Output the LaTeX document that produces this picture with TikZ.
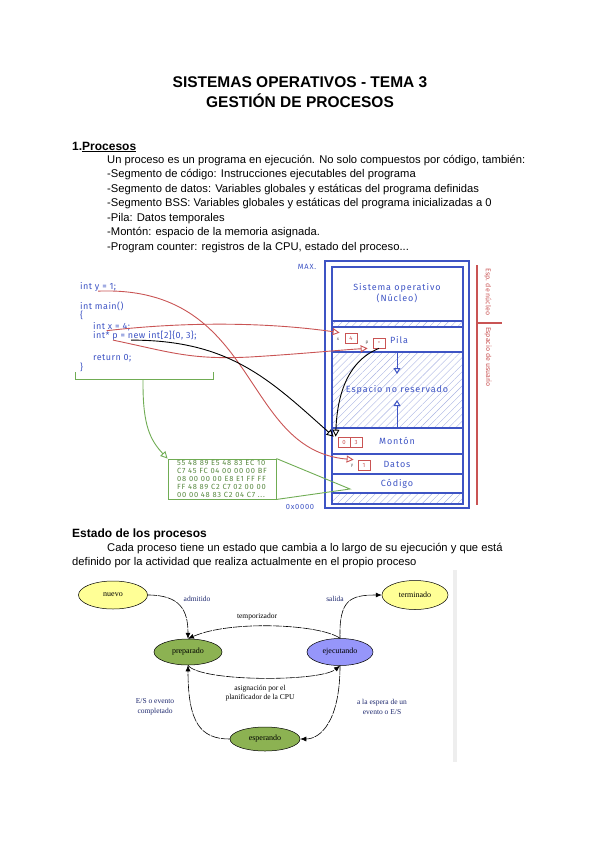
\documentclass[tikz,border=0pt]{standalone}
\usepackage{fontspec}
\setmainfont{Liberation Sans}
\newfontfamily\statefont{Liberation Serif}
\newfontfamily\sketchfont[LetterSpace=10]{Fira Sans}
\newfontfamily\codefont[LetterSpace=5]{Fira Sans}
\newfontfamily\sidefont{Fira Sans}
\usetikzlibrary{arrows.meta,patterns.meta,shapes.geometric}

\definecolor{skblue}{RGB}{62,84,196}
\definecolor{skred}{RGB}{201,84,84}
\definecolor{skgreen}{RGB}{112,172,84}
\definecolor{hatchblue}{RGB}{168,178,226}
\definecolor{stYellow}{RGB}{255,255,150}
\definecolor{stGreen}{RGB}{140,178,82}
\definecolor{stViolet}{RGB}{150,150,250}
\definecolor{labelnavy}{RGB}{30,40,110}
\definecolor{barGray}{RGB}{238,238,238}

\begin{document}
\begin{tikzpicture}[x=1pt,y=-1pt,
    title/.style={anchor=base, inner sep=0pt, font=\bfseries\fontsize{15.5}{17}\selectfont},
    body/.style={anchor=base west, inner sep=0pt, font=\fontsize{11.2}{13}\selectfont},
    head/.style={anchor=base west, inner sep=0pt, font=\bfseries\fontsize{12}{14}\selectfont},
    code/.style={anchor=base west, inner sep=0pt, text=skblue, font=\codefont\fontsize{9}{10}\selectfont},
    memtext/.style={inner sep=0pt, text=skblue, font=\sketchfont\fontsize{9}{11}\selectfont, align=center},
    sidetext/.style={inner sep=0pt, text=skred, rotate=-90, font=\sidefont\fontsize{7}{8}\selectfont},
    cell/.style={draw=skred, line width=0.7pt, minimum width=12pt, minimum height=10pt, inner sep=0pt, text=skred, font=\sidefont\fontsize{6}{6}\selectfont},
    varname/.style={inner sep=0pt, text=black!70, font=\sidefont\fontsize{4.5}{5}\selectfont},
    hatch/.style={pattern={Lines[angle=45,distance=5pt,line width=0.4pt]}, pattern color=hatchblue},
    skarrow/.style={-{Triangle[open,length=7pt,width=7pt]}, line width=0.9pt},
    state/.style={ellipse, draw=black, line width=0.5pt, inner sep=0pt, font=\statefont\fontsize{8}{9}\selectfont},
    trans/.style={draw=black, line width=0.6pt, dash pattern=on 9pt off 1pt, -{Latex[length=6pt,width=5pt]}},
    lbl/.style={inner sep=0pt, align=center, text=labelnavy, font=\statefont\fontsize{7.5}{9.5}\selectfont}]
\useasboundingbox (0,0) rectangle (600,848);

% cabecera
\node[title] (tit1) at (300,88) {SISTEMAS OPERATIVOS - TEMA 3};
\node[title] (tit2) at (300,108) {GESTIÓN DE PROCESOS};

\node[head] (sec1) at (72,150) {1.\underline{Procesos}};
\node[body] (l1) at (107,163) {Un proceso es un programa en ejecución. No solo compuestos por código, también:};
\node[body] (l2) at (107,177) {-Segmento de código: Instrucciones ejecutables del programa};
\node[body] (l3) at (107,192) {-Segmento de datos: Variables globales y estáticas del programa definidas};
\node[body] (l4) at (107,206) {-Segmento BSS: Variables globales y estáticas del programa inicializadas a 0};
\node[body] (l5) at (107,221) {-Pila: Datos temporales};
\node[body] (l6) at (107,235) {-Montón: espacio de la memoria asignada.};
\node[body] (l7) at (107,250) {-Program counter: registros de la CPU, estado del proceso...};

% codigo fuente
\node[code] (codey) at (80,289) {int y = 1;};
\node[code] (codemain) at (80,309) {int main()};
\node[code] (codeopen) at (80,318) {\{};
\node[code] (codex) at (93,329) {int x = 4;};
\node[code] (codep) at (93,338) {int* p = new int[2]\{0, 3\};};
\node[code] (coderet) at (93,360) {return 0;};
\node[code] (codeclose) at (80,370) {\}};

% mapa de memoria
\fill[hatch] (332,321) rectangle (463,327);
\fill[hatch] (332,352) rectangle (463,428);
\fill[hatch] (332,493) rectangle (463,504);
\draw[skblue, line width=1.1pt] (325,261) rectangle (469,508);
\draw[skblue, line width=1.1pt] (332,267) rectangle (463,504);
\draw[skblue, line width=1.1pt] (332,321) -- (463,321);
\draw[skblue, line width=1.1pt] (332,327) -- (463,327);
\draw[skblue, line width=1.1pt] (332,352) -- (463,352);
\draw[skblue, line width=1.1pt] (332,428) -- (463,428);
\draw[skblue, line width=1.1pt] (332,454) -- (463,454);
\draw[skblue, line width=1.1pt] (332,474) -- (463,474);
\draw[skblue, line width=1.1pt] (332,493) -- (463,493);
\draw[skblue, line width=1pt, -{Triangle[open,length=6pt,width=7pt]}] (397,352) -- (397,374);
\draw[skblue, line width=1pt, -{Triangle[open,length=6pt,width=7pt]}] (397,428) -- (397,400);

\node[memtext, font=\sketchfont\fontsize{7.5}{9}\selectfont] (maxlbl) at (307,267) {MAX.};
\node[memtext, font=\sketchfont\fontsize{7.5}{9}\selectfont] (minlbl) at (300,507) {0x0000};
\node[memtext] (kernel) at (397,293) {Sistema operativo\\(Núcleo)};
\node[memtext] (pila) at (399,340) {Pila};
\node[memtext] (libre) at (397,390) {Espacio no reservado};
\node[memtext] (monton) at (397,441) {Montón};
\node[memtext] (datos) at (397,464) {Datos};
\node[memtext] (codigo) at (397,484) {Código};

% celdas de variables
\node[cell] (xcell) at (351,338) {4};
\node[cell] (pcell) at (379,343) {•};
\node[cell] (h0) at (344,442) {0};
\node[cell] (h3) at (356,442) {3};
\node[cell] (ycell) at (364,465) {1};
\node[varname] (xname) at (338,339) {x};
\node[varname] (pname) at (367,343) {p};
\node[varname] (yname) at (352,466) {y};

% espacio de nucleo / usuario
\draw[skred, line width=1.2pt] (477,265) -- (477,505);
\draw[skred, line width=1.2pt] (477,323) -- (502,323);
\node[sidetext] (espnucleo) at (488,292) {Esp. de núcleo};
\node[sidetext] (espusuario) at (488,357) {Espacio de usuario};

% flechas variables
\draw[skarrow, skred] (codey.south) .. controls (260,285) and (240,450) .. ([xshift=-4pt]ycell.north west);
\draw[skarrow, skred] ([xshift=-5pt]codex.south) .. controls (200,320) and (280,324) .. ([xshift=-5pt]xcell.north west);
\draw[skarrow, skred] ([xshift=20pt]codep.south west) .. controls (170,352) and (190,360) .. (250,357) .. controls (300,354) and (340,350) .. ([xshift=-5pt]pcell.south west);
\draw[skarrow, black] ([xshift=38pt]codep.south west) .. controls (230,340) and (270,380) .. ([xshift=-4pt]h0.north west);
\draw[skarrow, black] (pcell.south) .. controls (345,362) and (337,400) .. ([xshift=-2pt]h0.north west);

% segmento de codigo
\node[draw=skgreen, line width=0.9pt, minimum width=108pt, minimum height=40pt, inner sep=0pt, text=skgreen!80!black, align=left, font=\sketchfont\fontsize{7.5}{8}\selectfont] (hexbox) at (222,479) {55 48 89 E5 48 83 EC 10\\C7 45 FC 04 00 00 00 BF\\08 00 00 00 E8 E1 FF FF\\FF 48 89 C2 C7 02 00 00\\00 00 48 83 C2 04 C7 ...};
\coordinate (codetip) at (350,489);
\draw[skgreen, line width=0.9pt] (hexbox.north east) -- (codetip) -- (hexbox.south east);
\draw[skgreen, line width=0.9pt] (75,372) -- (75,379) -- (213,379) -- (213,372);
\coordinate (bracetip) at (143,379);
\draw[skgreen, skarrow] (bracetip) -- ++(0,5) .. controls (143,425) and (150,440) .. (hexbox.north west);

% estados
\node[head] (sec2) at (72,537) {Estado de los procesos};
\node[body] (m1) at (107,551) {Cada proceso tiene un estado que cambia a lo largo de su ejecución y que está};
\node[body] (m2) at (72,565) {definido por la actividad que realiza actualmente en el propio proceso};

\fill[barGray] (453,570) rectangle (457,762);

\node[state, fill=stYellow, minimum width=69pt, minimum height=28pt] (nuevo) at (113,595) {nuevo};
\node[state, fill=stYellow, minimum width=66pt, minimum height=29pt] (terminado) at (415,595) {terminado};
\node[state, fill=stGreen, minimum width=68pt, minimum height=26pt] (preparado) at (188,652) {preparado};
\node[state, fill=stViolet, minimum width=66pt, minimum height=27pt] (ejecutando) at (340,652) {ejecutando};
\node[state, fill=stGreen, minimum width=70pt, minimum height=24pt] (esperando) at (265,739) {esperando};

\draw[trans] (nuevo.east) .. controls (180,595) and (188,610) .. (preparado.north);
\draw[trans] (ejecutando.north) .. controls (320,624) and (230,620) .. (preparado.north);
\draw[trans] (preparado.south) .. controls (200,682) and (320,682) .. (ejecutando.south);
\draw[trans] (ejecutando.north) .. controls (339,600) and (350,595) .. (terminado.west);
\draw[trans] (ejecutando.south) .. controls (340,722) and (320,739) .. (esperando.east);
\draw[trans] (esperando.west) .. controls (200,739) and (188,722) .. (preparado.south);

\node[lbl] (ladm) at (197,599) {admitido};
\node[lbl, text=black] (ltemp) at (257,617) {temporizador};
\node[lbl, text=black] (lasig) at (260,693) {asignación por el\\planificador de la CPU};
\node[lbl] (lsal) at (335,599) {salida};
\node[lbl] (lesp) at (382,707) {a la espera de un\\evento o E/S};
\node[lbl] (lcomp) at (155,707) {E/S o evento\\completado};
\end{tikzpicture}
\end{document}
